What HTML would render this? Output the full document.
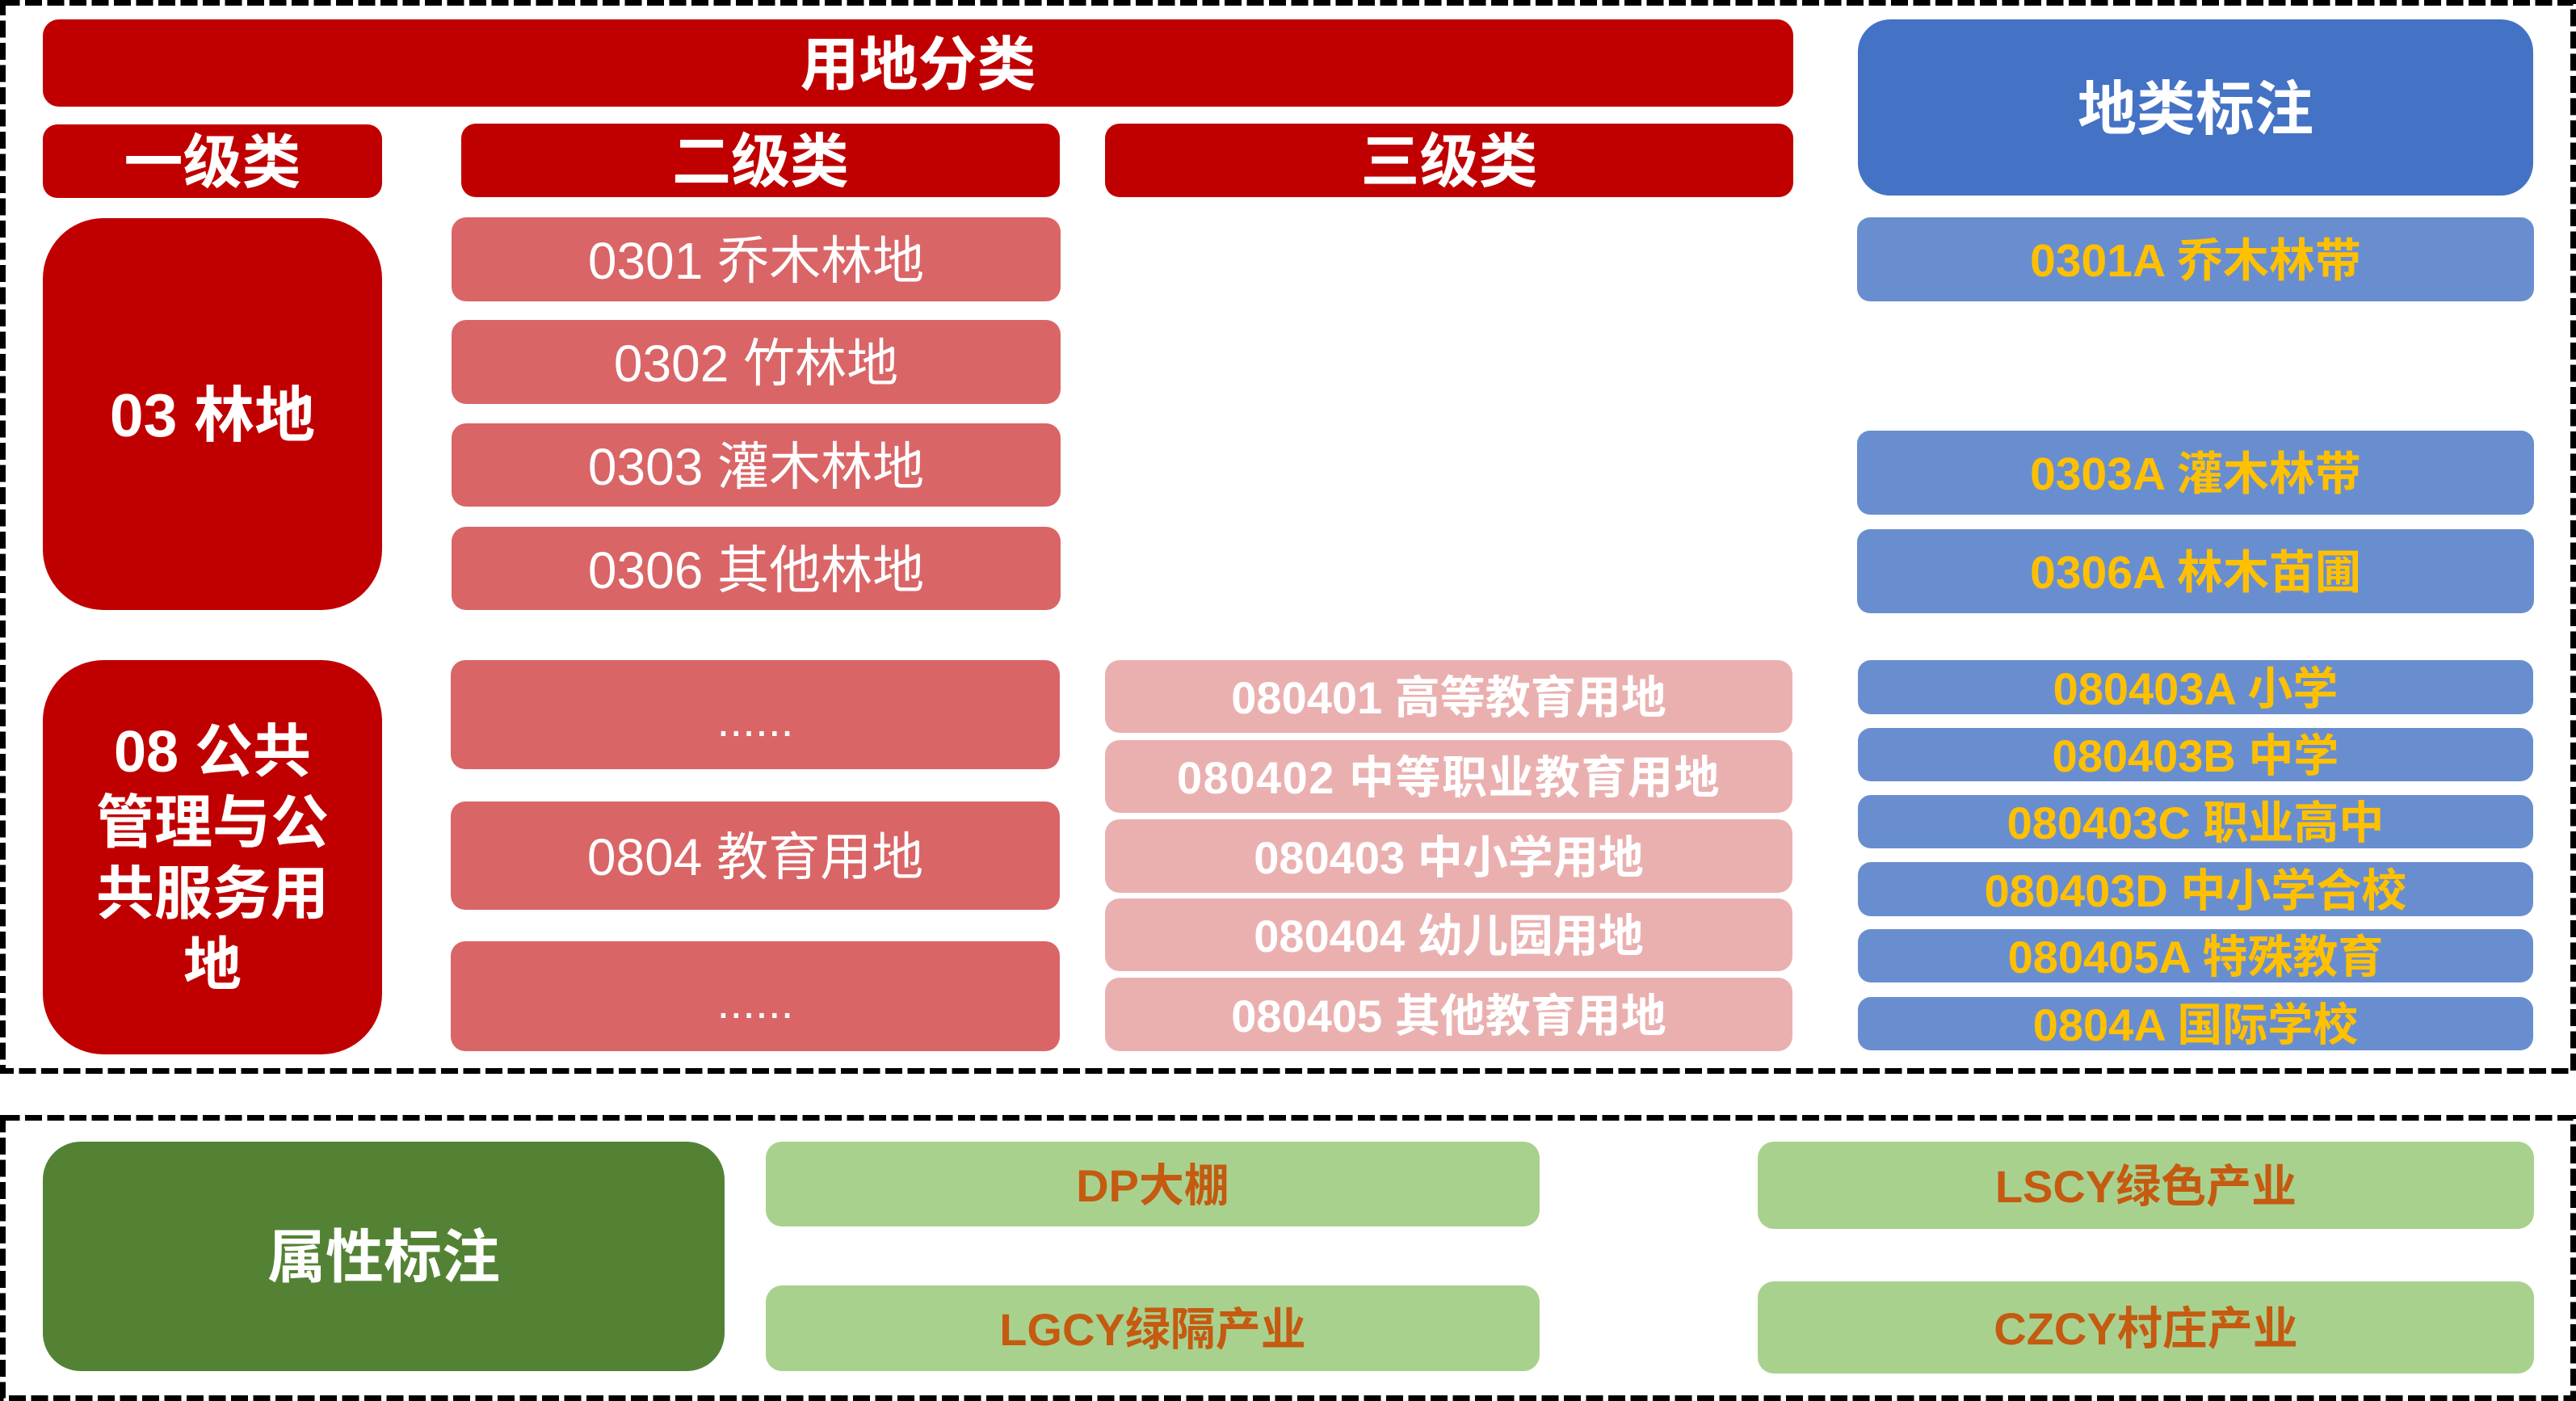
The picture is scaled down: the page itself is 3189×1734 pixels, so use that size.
<!DOCTYPE html>
<html>
<head>
<meta charset="utf-8">
<style>
html,body{margin:0;padding:0;background:#fff;}
body{width:3189px;height:1734px;position:relative;overflow:hidden;font-family:"Liberation Sans","Noto Sans CJK SC",sans-serif;}
.b{position:absolute;display:flex;align-items:center;justify-content:center;text-align:center;line-height:1;white-space:nowrap;box-sizing:border-box;padding-top:4px;}
.dr{background:#C00000;color:#fff;font-weight:bold;}
.lr{background:#D96567;color:#fff;font-weight:normal;font-size:64px;border-radius:18px;}
.pk{background:#EAB0B0;color:#fff;font-weight:bold;font-size:56px;border-radius:18px;}
.bh{background:#4472C4;color:#fff;font-weight:bold;}
.bl{background:#698ED0;color:#FFC000;font-weight:bold;font-size:56px;border-radius:16px;}
.gd{background:#548235;color:#fff;font-weight:bold;}
.gl{background:#A9D18E;color:#C55A11;font-weight:bold;font-size:56px;border-radius:20px;}
svg{position:absolute;left:0;top:0;}
</style>
</head>
<body>
<svg width="3189" height="1734" viewBox="0 0 3189 1734">
  <rect x="3.5" y="3.5" width="3182" height="1322" fill="none" stroke="#000" stroke-width="7" stroke-dasharray="21 6.5"/>
  <rect x="3.5" y="1383.5" width="3182" height="347" fill="none" stroke="#000" stroke-width="7" stroke-dasharray="21 6.5"/>
</svg>

<!-- headers -->
<div class="b dr" style="left:53px;top:24px;width:2167px;height:108px;border-radius:20px;font-size:73px;">用地分类</div>
<div class="b bh" style="left:2300px;top:24px;width:836px;height:218px;border-radius:40px;font-size:73px;">地类标注</div>
<div class="b dr" style="left:53px;top:154px;width:420px;height:91px;border-radius:18px;font-size:73px;">一级类</div>
<div class="b dr" style="left:571px;top:153px;width:741px;height:91px;border-radius:18px;font-size:73px;">二级类</div>
<div class="b dr" style="left:1368px;top:153px;width:852px;height:91px;border-radius:18px;font-size:73px;">三级类</div>

<!-- 03 林地 -->
<div class="b dr" style="left:53px;top:270px;width:420px;height:485px;border-radius:75px;font-size:75px;">03 林地</div>
<div class="b lr" style="left:559px;top:269px;width:754px;height:104px;">0301 乔木林地</div>
<div class="b lr" style="left:559px;top:396px;width:754px;height:104px;">0302 竹林地</div>
<div class="b lr" style="left:559px;top:524px;width:754px;height:103px;">0303 灌木林地</div>
<div class="b lr" style="left:559px;top:652px;width:754px;height:103px;">0306 其他林地</div>

<div class="b bl" style="left:2299px;top:269px;width:838px;height:104px;font-size:57px;">0301A 乔木林带</div>
<div class="b bl" style="left:2299px;top:533px;width:838px;height:104px;font-size:57px;">0303A 灌木林带</div>
<div class="b bl" style="left:2299px;top:655px;width:838px;height:104px;font-size:57px;">0306A 林木苗圃</div>

<!-- 08 -->
<div class="b dr" style="left:53px;top:817px;width:420px;height:488px;border-radius:75px;font-size:72px;line-height:88px;">08 公共<br>管理与公<br>共服务用<br>地</div>
<div class="b lr" style="left:558px;top:817px;width:754px;height:135px;font-size:57px;"><span style="position:relative;top:6px;font-family:'Liberation Sans',sans-serif;">......</span></div>
<div class="b lr" style="left:558px;top:992px;width:754px;height:134px;">0804 教育用地</div>
<div class="b lr" style="left:558px;top:1165px;width:754px;height:136px;font-size:57px;"><span style="position:relative;top:6px;font-family:'Liberation Sans',sans-serif;">......</span></div>

<div class="b pk" style="left:1368px;top:817px;width:851px;height:90px;">080401 高等教育用地</div>
<div class="b pk" style="left:1368px;top:916px;width:851px;height:90px;letter-spacing:1.5px;">080402 中等职业教育用地</div>
<div class="b pk" style="left:1368px;top:1014px;width:851px;height:91px;">080403 中小学用地</div>
<div class="b pk" style="left:1368px;top:1112px;width:851px;height:90px;">080404 幼儿园用地</div>
<div class="b pk" style="left:1368px;top:1210px;width:851px;height:91px;">080405 其他教育用地</div>

<div class="b bl" style="left:2300px;top:817px;width:836px;height:67px;">080403A 小学</div>
<div class="b bl" style="left:2300px;top:901px;width:836px;height:66px;">080403B 中学</div>
<div class="b bl" style="left:2300px;top:984px;width:836px;height:66px;">080403C 职业高中</div>
<div class="b bl" style="left:2300px;top:1067px;width:836px;height:67px;">080403D 中小学合校</div>
<div class="b bl" style="left:2300px;top:1150px;width:836px;height:66px;">080405A 特殊教育</div>
<div class="b bl" style="left:2300px;top:1234px;width:836px;height:66px;">0804A 国际学校</div>

<!-- bottom -->
<div class="b gd" style="left:53px;top:1413px;width:844px;height:284px;border-radius:47px;font-size:72px;">属性标注</div>
<div class="b gl" style="left:948px;top:1413px;width:958px;height:105px;">DP大棚</div>
<div class="b gl" style="left:948px;top:1591px;width:958px;height:106px;">LGCY绿隔产业</div>
<div class="b gl" style="left:2176px;top:1413px;width:961px;height:108px;">LSCY绿色产业</div>
<div class="b gl" style="left:2176px;top:1586px;width:961px;height:114px;">CZCY村庄产业</div>
</body>
</html>
